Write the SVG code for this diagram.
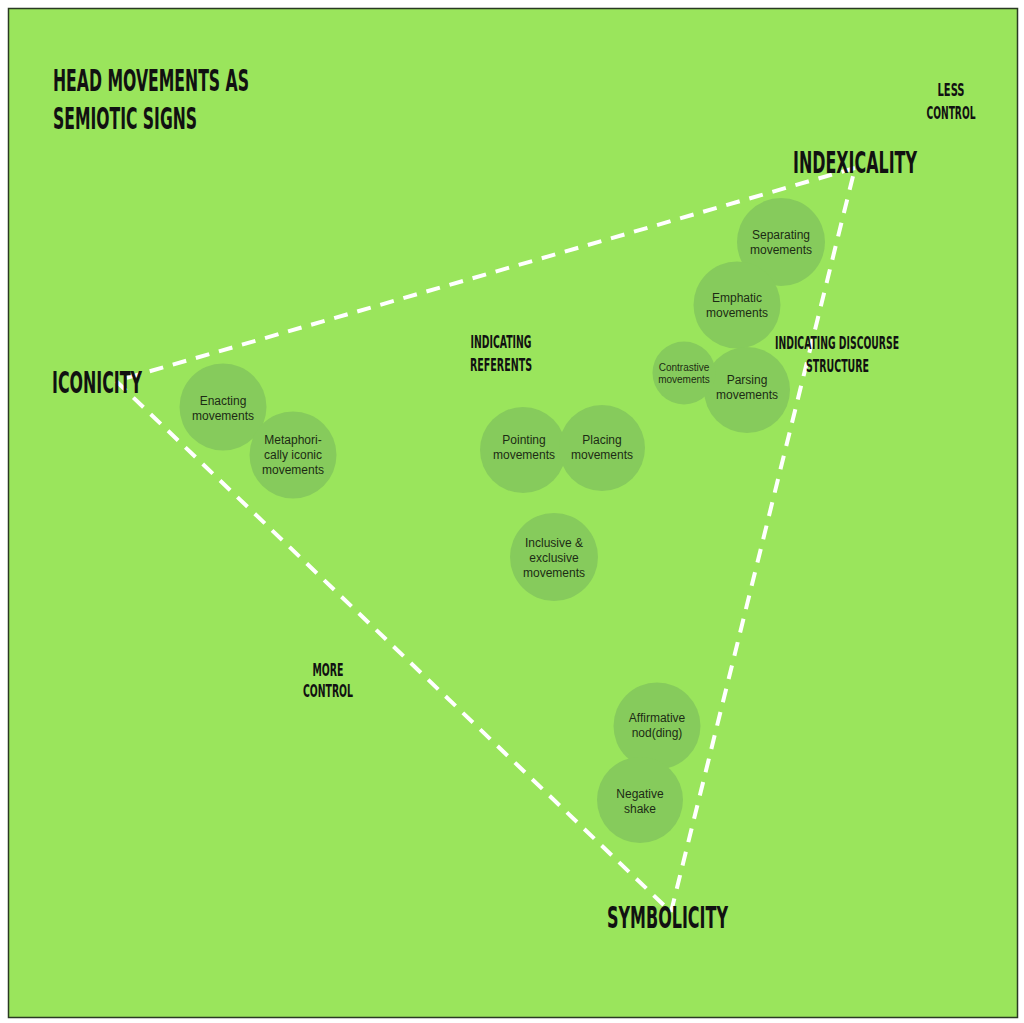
<svg xmlns="http://www.w3.org/2000/svg" width="1024" height="1023" viewBox="0 0 1024 1023">
<style>
.hd{font-family:"Liberation Sans Narrow","DejaVu Sans Condensed","Liberation Sans",sans-serif;font-weight:bold;fill:#111;}
.big{font-size:30px;}
.sm{font-size:18px;text-anchor:middle;}
.node circle{fill:#86cb5c;}
.node text{font-family:"Liberation Sans",Arial,sans-serif;font-size:12px;fill:#1c2b14;text-anchor:middle;}
.node text.tiny{font-size:10px;}
.edge{fill:none;stroke:#ffffff;stroke-width:4;stroke-dasharray:14 10;}
</style>
<rect x="0" y="0" width="1024" height="1023" fill="#ffffff"/>
<rect x="8.5" y="8.5" width="1009" height="1009" fill="#9ae55c" stroke="#2a3a22" stroke-width="1.5"/>

<g id="connectors">
<line class="edge" x1="855" y1="168" x2="116" y2="381"/>
<line class="edge" x1="116" y1="381" x2="671" y2="912"/>
<line class="edge" x1="671" y1="912" x2="855" y2="168"/>
</g>

<g id="title">
<text class="hd big" x="53" y="91" textLength="196" lengthAdjust="spacingAndGlyphs">HEAD MOVEMENTS AS</text>
<text class="hd big" x="53" y="129" textLength="144" lengthAdjust="spacingAndGlyphs">SEMIOTIC SIGNS</text>
</g>
<g id="less-control">
<text class="hd sm" x="951" y="96" textLength="27" lengthAdjust="spacingAndGlyphs">LESS</text>
<text class="hd sm" x="951" y="119" textLength="49" lengthAdjust="spacingAndGlyphs">CONTROL</text>
</g>
<g id="more-control">
<text class="hd sm" x="328" y="676" textLength="31" lengthAdjust="spacingAndGlyphs">MORE</text>
<text class="hd sm" x="328" y="697" textLength="50" lengthAdjust="spacingAndGlyphs">CONTROL</text>
</g>
<g id="indicating-referents">
<text class="hd sm" x="501" y="348" textLength="61" lengthAdjust="spacingAndGlyphs">INDICATING</text>
<text class="hd sm" x="501" y="371" textLength="62" lengthAdjust="spacingAndGlyphs">REFERENTS</text>
</g>
<g id="indicating-discourse">
<text class="hd sm" x="837" y="349" textLength="124" lengthAdjust="spacingAndGlyphs">INDICATING DISCOURSE</text>
<text class="hd sm" x="837.5" y="372" textLength="63" lengthAdjust="spacingAndGlyphs">STRUCTURE</text>
</g>

<g id="node-separating" class="node">
<circle cx="781" cy="242" r="44"/>
<text x="781" y="239">Separating</text>
<text x="781" y="254">movements</text>
</g>
<g id="node-emphatic" class="node">
<circle cx="737" cy="305" r="43.5"/>
<text x="737" y="302">Emphatic</text>
<text x="737" y="317">movements</text>
</g>
<g id="node-parsing" class="node">
<circle cx="747" cy="390" r="43"/>
<text x="747" y="384">Parsing</text>
<text x="747" y="399">movements</text>
</g>
<g id="node-contrastive" class="node">
<circle cx="684" cy="373" r="31.5"/>
<text class="tiny" x="684" y="371">Contrastive</text>
<text class="tiny" x="684" y="383">movements</text>
</g>
<g id="node-enacting" class="node">
<circle cx="223" cy="407" r="43.5"/>
<text x="223" y="405">Enacting</text>
<text x="223" y="420">movements</text>
</g>
<g id="node-metaphorical" class="node">
<circle cx="293" cy="455" r="43.5"/>
<text x="293" y="444">Metaphori-</text>
<text x="293" y="459">cally iconic</text>
<text x="293" y="474">movements</text>
</g>
<g id="node-pointing" class="node">
<circle cx="523" cy="450" r="43"/>
<text x="524" y="444">Pointing</text>
<text x="524" y="459">movements</text>
</g>
<g id="node-placing" class="node">
<circle cx="602" cy="448" r="43"/>
<text x="602" y="444">Placing</text>
<text x="602" y="459">movements</text>
</g>
<g id="node-inclusive" class="node">
<circle cx="554" cy="557" r="44"/>
<text x="554" y="547">Inclusive &amp;</text>
<text x="554" y="562">exclusive</text>
<text x="554" y="577">movements</text>
</g>
<g id="node-affirmative" class="node">
<circle cx="657" cy="726" r="43.5"/>
<text x="657" y="722">Affirmative</text>
<text x="657" y="737">nod(ding)</text>
</g>
<g id="node-negative" class="node">
<circle cx="640" cy="800" r="43"/>
<text x="640" y="798">Negative</text>
<text x="640" y="813">shake</text>
</g>

<g id="node-iconicity">
<text class="hd big" x="52" y="393" textLength="90" lengthAdjust="spacingAndGlyphs">ICONICITY</text>
</g>
<g id="node-indexicality">
<text class="hd big" x="793" y="173" textLength="124" lengthAdjust="spacingAndGlyphs">INDEXICALITY</text>
</g>
<g id="node-symbolicity">
<text class="hd big" x="607" y="928" textLength="121" lengthAdjust="spacingAndGlyphs">SYMBOLICITY</text>
</g>
</svg>
